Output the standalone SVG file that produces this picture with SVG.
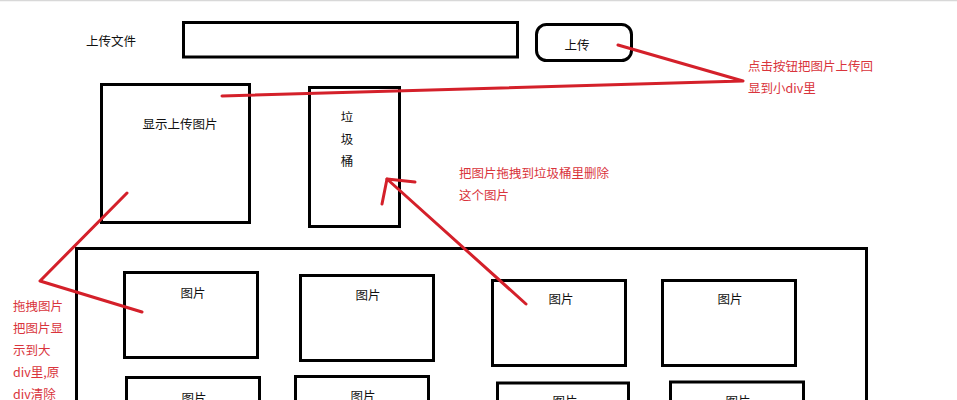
<svg xmlns="http://www.w3.org/2000/svg" width="957" height="400" viewBox="0 0 957 400">
<style>
.box{fill:#fff;stroke:#000;stroke-width:3}
.t{font-family:"Noto Sans CJK SC","Liberation Sans",sans-serif;font-size:12.5px;fill:#111}
.c{text-anchor:middle}
.r{font-family:"Noto Sans CJK SC","Liberation Sans",sans-serif;font-size:12.5px;fill:#d9343c}
.ln{fill:none;stroke:#d4202a;stroke-width:3;stroke-linecap:round;stroke-linejoin:round}
</style>
<rect x="0" y="0" width="957" height="400" fill="#fff"/>
<line x1="0" y1="0.5" x2="957" y2="0.5" stroke="#d8d8d8" stroke-width="1.5"/>
<g id="label-upload-file"><text class="t" x="86" y="45.5">上传文件</text></g>
<g id="file-input"><rect class="box" x="183.5" y="22.5" width="334" height="34.5"/></g>
<g id="upload-button"><rect class="box" x="536.5" y="24.5" width="95" height="36" rx="10"/><text class="t c" x="577" y="50">上传</text></g>
<g id="preview"><rect class="box" x="101.5" y="84.5" width="148" height="138"/><text class="t c" x="180" y="129">显示上传图片</text></g>
<g id="trash"><rect class="box" x="309.5" y="87.5" width="90" height="139"/><text class="t c" x="347" y="122">垃</text><text class="t c" x="347" y="144">圾</text><text class="t c" x="347" y="166">桶</text></g>
<g id="container"><rect class="box" x="76.5" y="248.5" width="790" height="170"/></g>
<g id="img1"><rect class="box" x="124.5" y="272.5" width="133" height="85"/><text class="t c" x="193" y="298">图片</text></g>
<g id="img2"><rect class="box" x="300.5" y="275.5" width="133" height="85"/><text class="t c" x="368" y="300">图片</text></g>
<g id="img3"><rect class="box" x="492.5" y="280.5" width="133" height="85"/><text class="t c" x="561" y="304">图片</text></g>
<g id="img4"><rect class="box" x="662.5" y="280.5" width="133" height="85"/><text class="t c" x="730" y="304">图片</text></g>
<g id="img5"><rect class="box" x="126.5" y="377.5" width="133" height="85"/><text class="t c" x="194" y="403">图片</text></g>
<g id="img6"><rect class="box" x="295.5" y="376.5" width="133" height="85"/><text class="t c" x="363" y="401">图片</text></g>
<g id="img7"><rect class="box" x="497.5" y="383" width="131" height="85"/><text class="t c" x="565" y="406">图片</text></g>
<g id="img8"><rect class="box" x="670.5" y="382" width="133" height="85"/><text class="t c" x="738" y="406">图片</text></g>
<g id="notes">
<text class="r" x="748" y="71">点击按钮把图片上传回</text>
<text class="r" x="748" y="93">显到小div里</text>
<text class="r" x="459" y="178">把图片拖拽到垃圾桶里删除</text>
<text class="r" x="459" y="200">这个图片</text>
<text class="r" x="13" y="311">拖拽图片</text>
<text class="r" x="13" y="333">把图片显</text>
<text class="r" x="13" y="355">示到大</text>
<text class="r" x="13" y="377">div里,原</text>
<text class="r" x="13" y="399">div清除</text>
</g>
<g id="connectors">
<polyline class="ln" points="618,45 743,81 222,96"/>
<polyline class="ln" points="127,193 40,281 142,312"/>
<line class="ln" x1="526" y1="304" x2="387" y2="179"/>
<polyline class="ln" points="382,204 387,179 415,182"/>
</g>
</svg>
